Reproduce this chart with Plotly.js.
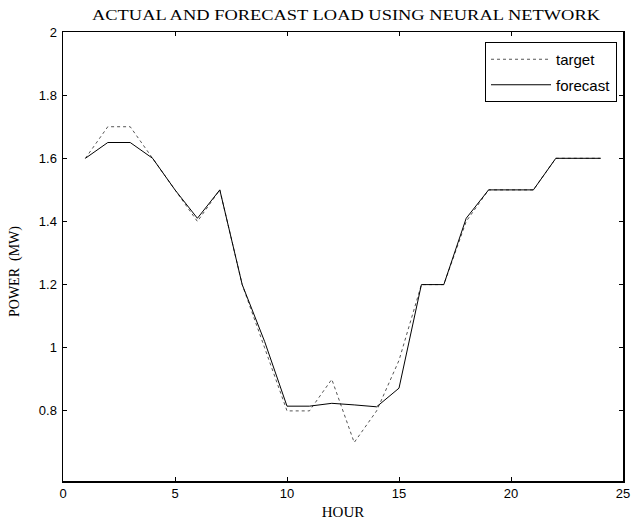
<!DOCTYPE html>
<html>
<head>
<meta charset="utf-8">
<script src="https://cdn.plot.ly/plotly-3.0.1.min.js"></script>
<style>html,body{margin:0;padding:0;background:#fff;}#chart{width:633px;height:525px;}</style>
</head>
<body>
<div id="chart"></div>
<script>
const hours = [1,2,3,4,5,6,7,8,9,10,11,12,13,14,15,16,17,18,19,20,21,22,23,24];
const target = [1.6,1.7,1.7,1.6,1.5,1.4,1.5,1.2,1.0,0.8,0.8,0.9,0.7,0.8,0.96,1.2,1.2,1.4,1.5,1.5,1.5,1.6,1.6,1.6];
const forecast = [1.6,1.65,1.65,1.6,1.5,1.41,1.5,1.2,1.02,0.815,0.815,0.824,0.819,0.813,0.872,1.2,1.2,1.41,1.5,1.5,1.5,1.6,1.6,1.6];
const xTicks = [0,5,10,15,20,25];
const yTicks = [0.8,1,1.2,1.4,1.6,1.8,2];

const serif = 'Liberation Serif, Times New Roman, serif';
const sans = 'Liberation Sans, Arial, sans-serif';

const traces = [
  {x: hours, y: target, name: 'target', mode: 'lines', type: 'scatter', legendgroup: 'a',
   line: {color: '#555555', width: 1, dash: 'dot'}},
  {x: hours, y: forecast, name: 'forecast', mode: 'lines', type: 'scatter', legendgroup: 'b',
   line: {color: '#000000', width: 1}}
];

const axisCommon = {
  showline: true, linecolor: '#000', linewidth: 1.5, mirror: 'ticks',
  ticks: 'inside', ticklen: 4, tickcolor: '#000', showgrid: false, zeroline: false,
  tickfont: {family: sans, size: 13, color: '#000'}
};

const layout = {
  width: 633, height: 525,
  margin: {l: 63, r: 10, t: 32, b: 44},
  paper_bgcolor: '#fff', plot_bgcolor: '#fff',
  title: {text: 'ACTUAL AND FORECAST LOAD USING NEURAL NETWORK',
          font: {family: serif, size: 14, color: '#000'},
          x: 346/633, xanchor: 'center', y: 1 - 15/525, yanchor: 'middle'},
  xaxis: Object.assign({}, axisCommon, {range: [0, 25], tickvals: xTicks,
    title: {text: 'HOUR', font: {family: serif, size: 15, color: '#000'}, standoff: 6}}),
  yaxis: Object.assign({}, axisCommon, {range: [0.578, 2], tickvals: yTicks, ticklabelstandoff: 2}),
  annotations: [{
    text: 'POWER  (MW)', xref: 'paper', yref: 'paper',
    x: (15 - 63) / 560, y: 1 - (272 - 32) / 449, xanchor: 'center', yanchor: 'middle',
    textangle: -90, showarrow: false, font: {family: serif, size: 14, color: '#000'}
  }],
  showlegend: true,
  legend: {x: (617 - 63) / 560, y: 1 - (42 - 32) / 449, xanchor: 'right', yanchor: 'top',
    bordercolor: '#000', borderwidth: 1, bgcolor: '#fff',
    font: {family: sans, size: 15, color: '#000'},
    itemwidth: 60, tracegroupgap: 3}
};

Plotly.newPlot('chart', traces, layout, {displayModeBar: false, staticPlot: true}).then(function () {
  const t = document.querySelector('.gtitle');
  if (t) {
    t.setAttribute('textLength', 508);
    t.setAttribute('lengthAdjust', 'spacingAndGlyphs');
  }
});
</script>
</body>
</html>
